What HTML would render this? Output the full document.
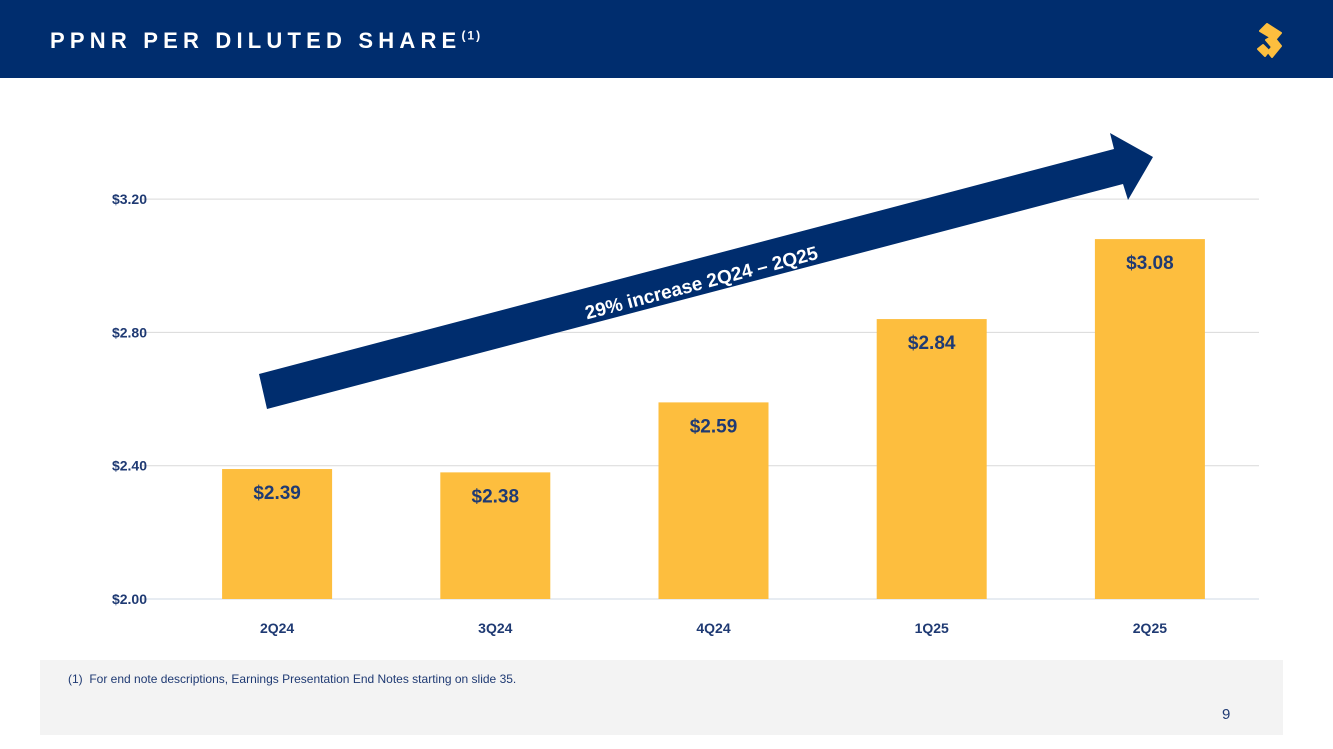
<!DOCTYPE html>
<html><head><meta charset="utf-8"><style>
body{margin:0;width:1333px;height:749px;overflow:hidden;background:#fff;font-family:"Liberation Sans",sans-serif;position:relative}
#hdr{position:absolute;left:0;top:0;width:1333px;height:78px;background:#002d6e}
#title{position:absolute;left:50px;top:28px;color:#fff;font-weight:bold;font-size:22px;letter-spacing:5.2px}
#title sup{font-size:12px;letter-spacing:2px}
#foot{position:absolute;left:40px;top:660px;width:1243px;height:75px;background:#f3f3f3}
#note{position:absolute;left:68px;top:672px;font-size:12px;color:#1f3a73}
#pg{position:absolute;left:1222px;top:706px;font-size:15px;color:#1f3a73}
svg{position:absolute;left:0;top:0}
</style></head><body>
<div id="hdr"></div>
<div id="title">PPNR PER DILUTED SHARE<sup>(1)</sup></div>
<div id="foot"></div>
<div id="note">(1)&nbsp; For end note descriptions, Earnings Presentation End Notes starting on slide 35.</div>
<div id="pg">9</div>
<svg width="1333" height="749" id="chart">
<g fill="#fdbe3e" stroke="#fdbe3e" stroke-linejoin="round" stroke-width="2">
<path d="M1260 31 L1267 24 L1281 33 L1275 40 Z"/><path d="M1266 40 L1273 36 L1281 46 L1272 57 L1268 52 L1272 47 Z"/><path d="M1258 49 L1263 45 L1269 51 L1265 56 Z"/>
</g>
</svg>
<script>
const categories=["2Q24","3Q24","4Q24","1Q25","2Q25"];
const values=[2.39,2.38,2.59,2.84,3.08];
const labels=["$2.39","$2.38","$2.59","$2.84","$3.08"];
const ticks=[2.0,2.4,2.8,3.2];
const tickLabels=["$2.00","$2.40","$2.80","$3.20"];
const NS="http://www.w3.org/2000/svg";
const svg=document.getElementById('chart');
const x0=168,x1=1259,yBase=599;
const y=v=>yBase-(v-2.0)/0.4*133.3;
const band=(x1-x0)/categories.length;
const xc=i=>x0+band*(i+0.5);
function mk(t,a,txt){const e=document.createElementNS(NS,t);for(const k in a)e.setAttribute(k,a[k]);if(txt!=null)e.textContent=txt;svg.appendChild(e);return e;}
ticks.forEach((t,i)=>{
 const g=mk('line',{x1:140,x2:x1,y1:y(t),y2:y(t),stroke:i==0?'#cfd8e6':'#d9d9d9','stroke-width':1});
 
 
 const l=mk('text',{x:147,y:y(t)+5,'text-anchor':'end','font-size':14,'font-weight':'bold',fill:'#1f3a73'},tickLabels[i]);
 
 
});
categories.forEach((c,i)=>{
 const b=mk('rect',{x:xc(i)-55,y:y(values[i]),width:110,height:yBase-y(values[i]),fill:'#fdbe3e'});
 
 
 const v=mk('text',{x:xc(i),y:y(values[i])+30,'text-anchor':'middle','font-size':19,'font-weight':'bold',fill:'#1f3a73'},labels[i]);
 
 
 const t=mk('text',{x:xc(i),y:633,'text-anchor':'middle','font-size':14,'font-weight':'bold',fill:'#1f3a73'},c);
 
 
});
const ar=mk('polygon',{points:"259,374 1114,149 1110,133 1153,157 1128,200 1123,184 267,409",fill:'#002d6e'});


const at=mk('text',{x:0,y:0,'text-anchor':'middle','font-size':19,'font-weight':'bold',fill:'#fff',transform:'translate(703,289) rotate(-14.7)'},"29% increase 2Q24 – 2Q25");


</script>
</body></html>
